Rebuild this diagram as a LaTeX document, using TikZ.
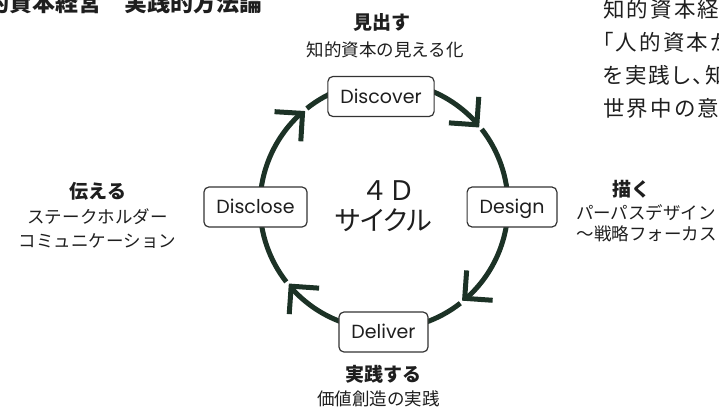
\documentclass[tikz,border=0pt]{standalone}
\usepackage{fontspec}
\setmainfont{Noto Sans CJK JP}
\newfontfamily\pop{Poppins}
\newfontfamily\jpls[LetterSpace=10]{Noto Sans CJK JP}
\newfontfamily\jplsp[LetterSpace=10,RawFeature=+palt]{Noto Sans CJK JP}
\newfontfamily\jpp[RawFeature=+palt]{Noto Sans CJK JP}
\usetikzlibrary{calc}
\definecolor{ringc}{RGB}{28,50,38}
\definecolor{txt}{RGB}{30,30,30}
\begin{document}
\begin{tikzpicture}[x=1bp,y=-1bp,
  lbl/.style={inner sep=0pt, text=txt},
  bold/.style={lbl, font=\fontsize{19bp}{19bp}\selectfont\bfseries},
  sub/.style={lbl, font=\fontsize{17.5bp}{17.5bp}\selectfont},
  side/.style={lbl, anchor=base west, font=\jpls\fontsize{21.5bp}{21.5bp}\selectfont},
  box/.style={draw=black!80, line width=1.2bp, rounded corners=5bp, fill=white,
    minimum height=40bp, inner xsep=12.5bp, inner ysep=0pt,
    text height=13.5bp, text depth=0pt, font=\pop\fontsize{19bp}{19bp}\selectfont, text=txt},
  ring/.style={draw=ringc, line width=5bp},
  chev/.style={ring, line join=miter, line cap=butt}]
\useasboundingbox (0,0) rectangle (719,407);
\clip (0,0) rectangle (719,407);
\coordinate (C) at (384,205.5);
% ring arcs (clockwise)
\foreach \a/\b in {180/131.5, 128.5/90, 90/41, 38/0, 0/-49, -52/-90, -90/-139, -142/-180}{
  \draw[ring] ($(C)+({-\a}:124)$) arc[start angle={-\a}, end angle={-\b}, radius=124];
}
% arrowheads
\foreach \t in {131.5,41,-49,-139}{
  \draw[chev] ($(C)+({-\t}:123)+({-(\t+45)}:28)$) -- ($(C)+({-\t}:123)$) -- ++({-(\t+135)}:28);
}
% boxes
\node[box] (discover) at (381,96.5) {Discover};
\node[box] (disclose) at (255.5,207) {Disclose};
\node[box] (design) at (512,207) {Design};
\node[box] (deliver) at (383.5,332) {Deliver};
% center
\node[lbl, font=\fontsize{27bp}{27bp}\selectfont] (c1) at (388,191) {４Ｄ};
\node[lbl, font=\jpp\fontsize{27bp}{27bp}\selectfont] (c2) at (383.5,220.5) {サイクル};
% labels
\node[bold] (t1) at (381.5,22) {見出す};
\node[sub] (s1) at (385,49.5) {知的資本の見える化};
\node[bold] (t2) at (98,191.5) {伝える};
\node[sub] (s2a) at (97.5,216.5) {ステークホルダー};
\node[sub] (s2b) at (97.5,241.5) {コミュニケーション};
\node[bold] (t3) at (631.5,189) {描く};
\node[sub] (s3a) at (646,212.5) {パーパスデザイン};
\node[sub] (s3b) at (646.5,234) {〜戦略フォーカス};
\node[bold] (t4) at (383,374) {実践する};
\node[sub] (s4) at (378.5,399) {価値創造の実践};
% cut-off texts
\node[lbl, anchor=base west, font=\fontsize{23bp}{23bp}\selectfont\bfseries] (title) at (-37,11.5) {知的資本経営　実践的方法論};
\node[side] (r1) at (603,17) {知的資本経営};
\node[side] (r2) at (592,50) {「人的資本が};
\node[side, font=\jplsp\fontsize{21.5bp}{21.5bp}\selectfont] (r3) at (603,83) {を実践し、知};
\node[side] (r4) at (603,116) {世界中の意};
\end{tikzpicture}
\end{document}
